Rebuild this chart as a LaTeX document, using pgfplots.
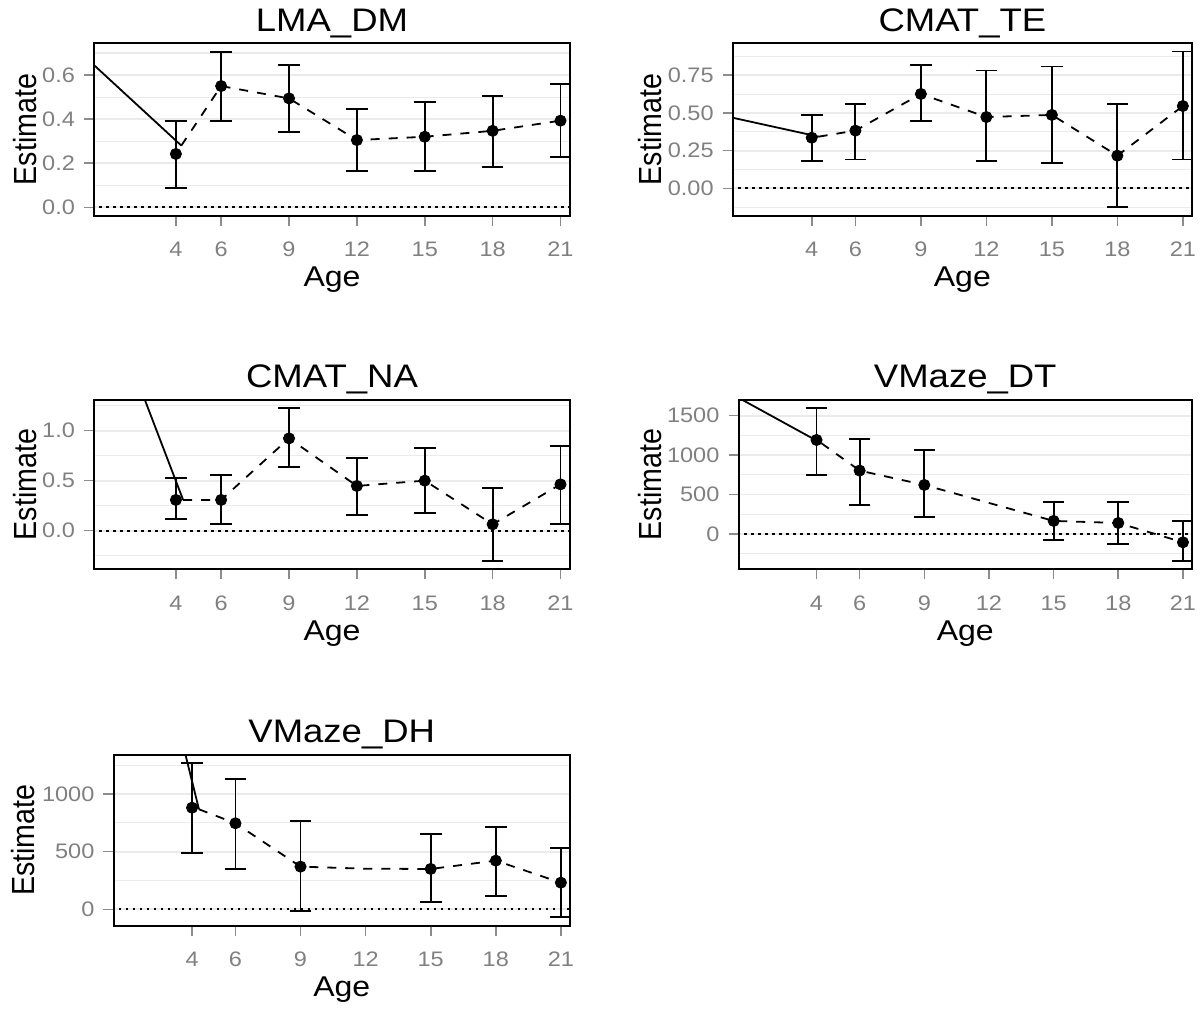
\documentclass[border=0pt]{standalone}
\usepackage{fontspec}
\setmainfont{Liberation Sans}[FakeStretch=1.12]
\newfontfamily\plainsans{Liberation Sans}
\usepackage{graphicx}
\usepackage{pgfplots}
\pgfplotsset{compat=1.18}

\pgfplotsset{
  panel/.style={
    scale only axis, anchor=south west,
    xmin=0.38, xmax=21.42,
    xtick={4,6,9,12,15,18,21},
    xticklabels={4,6,9,12,15,18,21},
    tick align=outside, tick pos=left,
    major tick length=5pt, minor tick length=0pt,
    major tick style={black!45, line width=0.8pt},
    axis line style={line width=1pt},
    ymajorgrids, yminorgrids,
    major grid style={black!8, line width=0.9pt},
    minor grid style={black!8, line width=0.55pt},
    clip marker paths=true,
    tick label style={font=\fontsize{10.5}{12}\selectfont, text=black!50},
    xticklabel style={anchor=base, yshift=-15.5pt},
    yticklabel style={anchor=east, inner sep=0pt, xshift=-4.35pt},
    title style={at={(0.5,1)}, anchor=base, yshift=0pt, font=\fontsize{16.3}{18}\selectfont},
    xlabel={Age},
    xlabel style={at={(axis description cs:0.5,0)}, anchor=base, yshift=-35.5pt,
      font=\fontsize{14.3}{16}\selectfont},
    ylabel={\scalebox{1}[1.12]{Estimate}},
    ylabel style={at={(axis description cs:#1,0.5)}, anchor=base,
      font=\plainsans\fontsize{14.3}{16}\selectfont},
  },
  zero/.style={black, line width=0.9pt, dash pattern=on 1.1pt off 2.4pt},
  fit/.style={black, line width=0.9pt},
  path/.style={black, line width=0.9pt, dash pattern=on 4.5pt off 4.5pt},
  est/.style={only marks, mark=*, mark size=2.8pt, black,
    error bars/.cd, y dir=both, y explicit, error mark=|,
    error bar style={line width=0.9pt, black},
    error mark options={line width=0.9pt, mark size=5.4pt, black}},
}

\begin{document}
\begin{tikzpicture}
\path[use as bounding box] (0,0) rectangle (601.5pt,505pt);

% LMA_DM
\begin{axis}[panel=-0.121, at={(47pt,397.15pt)}, width=238pt, height=86.2pt,
  title={LMA\_DM}, ymin=-0.038, ymax=0.744,
  ytick={0,0.2,0.4,0.6}, yticklabels={0.0,0.2,0.4,0.6},
  minor ytick={0.1,0.3,0.5,0.7}]
\addplot[zero] coordinates {(0,0) (22,0)};
\addplot[fit] coordinates {(0.2,0.662) (4.24,0.28)};
\addplot[path] coordinates {(4.24,0.28) (6,0.55) (9,0.494) (12,0.305) (15,0.32) (18,0.347) (21,0.393)};
\addplot[est] table[x=x, y=y, y error plus=ep, y error minus=em] {
x  y     ep    em
4  0.242 0.149 0.156
6  0.550 0.156 0.157
9  0.494 0.151 0.154
12 0.305 0.141 0.139
15 0.320 0.159 0.154
18 0.347 0.159 0.163
21 0.393 0.165 0.166
};
\end{axis}

% CMAT_TE
\begin{axis}[panel=-0.155, at={(366.35pt,397.15pt)}, width=229.65pt, height=86.2pt,
  title={CMAT\_TE}, ymin=-0.181, ymax=0.962,
  ytick={0,0.25,0.5,0.75}, yticklabels={0.00,0.25,0.50,0.75},
  minor ytick={-0.125,0.125,0.375,0.625,0.875}]
\addplot[zero] coordinates {(0,0) (22,0)};
\addplot[fit] coordinates {(0.2,0.474) (4.32,0.343)};
\addplot[path] coordinates {(4.32,0.343) (6,0.383) (9,0.626) (12,0.473) (15,0.487) (18,0.217) (21,0.546)};
\addplot[est] table[x=x, y=y, y error plus=ep, y error minus=em] {
x  y     ep    em
4  0.336 0.151 0.157
6  0.383 0.179 0.191
9  0.626 0.193 0.177
12 0.473 0.308 0.294
15 0.487 0.321 0.321
18 0.217 0.345 0.343
21 0.546 0.361 0.354
};
\end{axis}

% CMAT_NA
\begin{axis}[panel=-0.121, at={(47pt,220.35pt)}, width=238pt, height=84.65pt,
  title={CMAT\_NA}, ymin=-0.387, ymax=1.307,
  ytick={0,0.5,1}, yticklabels={0.0,0.5,1.0},
  minor ytick={-0.25,0.25,0.75,1.25}]
\addplot[zero] coordinates {(0,0) (22,0)};
\addplot[fit] coordinates {(2.0,1.68) (4.32,0.307)};
\addplot[path] coordinates {(4.32,0.307) (6,0.307) (9,0.923) (12,0.447) (15,0.5) (18,0.063) (21,0.463)};
\addplot[est] table[x=x, y=y, y error plus=ep, y error minus=em] {
x  y     ep    em
4  0.307 0.216 0.190
6  0.307 0.250 0.244
9  0.923 0.307 0.286
12 0.447 0.283 0.290
15 0.500 0.327 0.327
18 0.063 0.367 0.366
21 0.463 0.387 0.400
};
\end{axis}

% VMaze_DT
\begin{axis}[panel=-0.170, at={(369.25pt,220.35pt)}, width=226.75pt, height=84.65pt,
  title={VMaze\_DT}, ymin=-448, ymax=1698,
  ytick={0,500,1000,1500}, yticklabels={0,500,1000,1500},
  minor ytick={-250,250,750,1250}]
\addplot[zero] coordinates {(0,0) (22,0)};
\addplot[fit] coordinates {(0.2,1753) (4.23,1149)};
\addplot[path] coordinates {(4.23,1149) (6,803) (9,621) (15,165) (18,139) (21,-106)};
\addplot[est] table[x=x, y=y, y error plus=ep, y error minus=em] {
x  y    ep  em
4  1191 410 443
6  803  405 440
9  621  448 406
15 165  241 241
18 139  267 266
21 -106 271 236
};
\end{axis}

% VMaze_DH
\begin{axis}[panel=-0.173, at={(56.75pt,42.15pt)}, width=228.25pt, height=85.35pt,
  title={VMaze\_DH}, ymin=-142, ymax=1338,
  ytick={0,500,1000}, yticklabels={0,500,1000},
  minor ytick={250,750,1250}]
\addplot[zero] coordinates {(0,0) (22,0)};
\addplot[fit] coordinates {(3.5,1490) (4.32,867)};
\addplot[path] coordinates {(4.32,867) (6,746) (9,370) (12,352) (15,350) (18,422) (21,231)};
\addplot[est] table[x=x, y=y, y error plus=ep, y error minus=em] {
x  y   ep  em
4  881 385 395
6  746 384 396
9  370 399 384
15 350 300 284
18 422 292 304
21 231 304 295
};
\end{axis}
\end{tikzpicture}
\end{document}
